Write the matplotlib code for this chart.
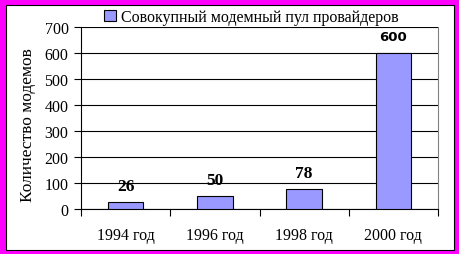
import matplotlib.pyplot as plt
from matplotlib.patches import Rectangle

years = ["1994 год", "1996 год", "1998 год", "2000 год"]
modems = [26, 50, 78, 600]
series_name = "Совокупный модемный пул провайдеров"

plt.rcParams['font.family'] = ['Liberation Serif', 'DejaVu Serif']

W, H = 459, 255
fig = plt.figure(figsize=(W / 100, H / 100), dpi=100)
fig.patch.set_facecolor('#FF00FF')

# white chart area with thin black frame
fig.patches.append(Rectangle((5.5 / W, 4.5 / H), 448 / W, 245 / H,
                             transform=fig.transFigure, facecolor='white',
                             edgecolor='black', linewidth=0.8, zorder=-5))

ax = fig.add_axes([81 / W, 45 / H, 357 / W, 182 / H])
ax.set_facecolor('white')

x = range(len(years))
bars = ax.bar(x, modems, width=0.4, color='#9999FF', edgecolor='black',
              linewidth=0.8, label=series_name, zorder=3)

for i, v in enumerate(modems):
    if v == 600:
        ax.text(i, v + 64, str(v), ha='center', va='center', fontsize=9.5,
                fontweight='bold', family='DejaVu Sans')
    else:
        ax.text(i, v + 62, str(v), ha='center', va='center', fontsize=12.5,
                fontweight='bold')

ax.set_xlim(-0.5, len(years) - 0.5)
ax.set_ylim(0, 700)
ax.set_yticks(range(0, 701, 100))
ax.set_xticks([i - 0.5 for i in range(len(years) + 1)], minor=False)
ax.set_xticklabels([])
ax.set_xticks(list(x), minor=True)
ax.set_xticklabels(years, minor=True, fontsize=11.5)
ax.tick_params(axis='x', which='major', length=5, direction='out', width=0.8)
ax.tick_params(axis='x', which='minor', length=0, pad=13)
ax.tick_params(axis='y', length=5, direction='out', width=0.8, labelsize=11.5, pad=4)

ax.yaxis.grid(True, color='black', linewidth=0.8, zorder=0)
ax.set_axisbelow(True)

ax.spines['top'].set_visible(False)
ax.spines['right'].set_color('#808080')
ax.spines['left'].set_linewidth(0.8)
ax.spines['bottom'].set_linewidth(0.8)

ax.set_ylabel("Количество модемов", fontsize=12.5)
ax.yaxis.set_label_coords(-0.126, 0.467)

fig.legend(handles=[bars], labels=[series_name], loc='center',
           bbox_to_anchor=(251 / W, 1 - 18 / H), frameon=False, fontsize=11.5,
           handlelength=0.75, handleheight=0.75, handletextpad=0.3)

fig.savefig('out.png', dpi=100, facecolor=fig.get_facecolor())
